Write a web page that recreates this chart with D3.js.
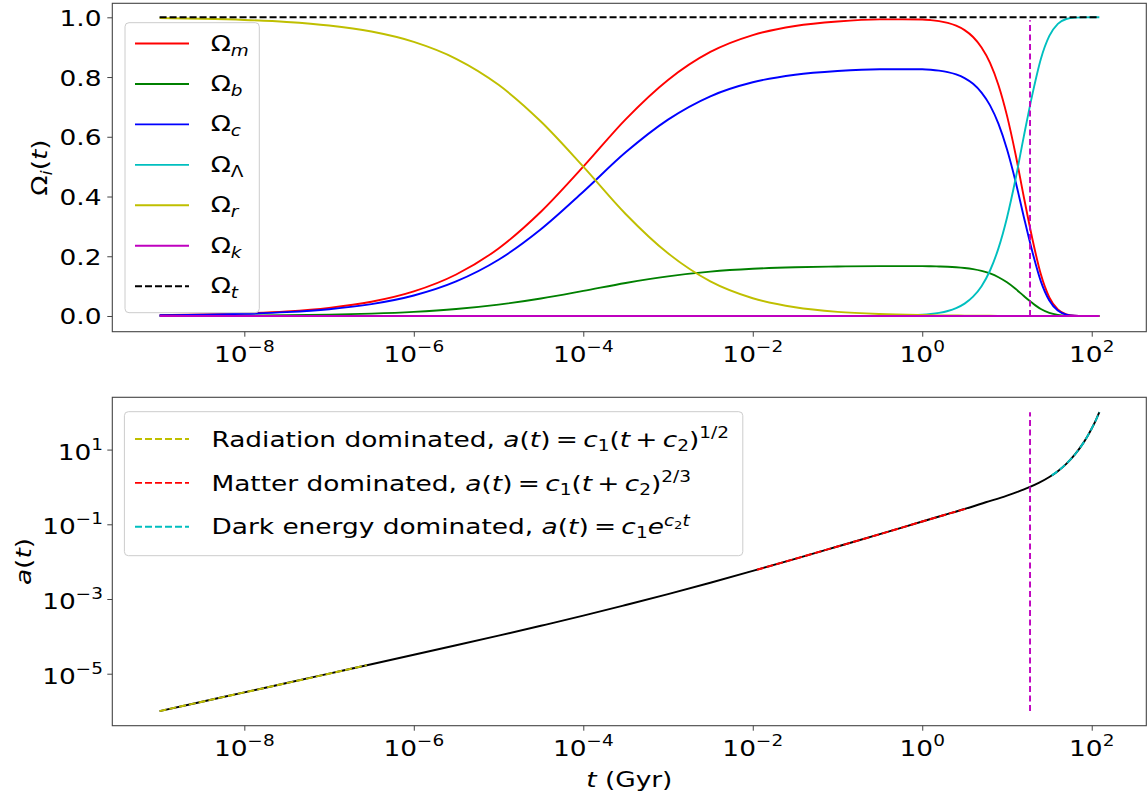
<!DOCTYPE html>
<html>
<head>
<meta charset="utf-8">
<script src="https://cdn.jsdelivr.net/npm/d3@7"></script>
<style>
  body { margin: 0; background: #fff; }
  text { font-family: "DejaVu Sans", sans-serif; fill: #000; white-space: pre; }
</style>
</head>
<body>
<svg id="chart"></svg>
<script>
// ---- top panel: density parameters vs time (Gyr) ----
const omegaTime = [1e-9, 3.16e-9, 1e-8, 3.16e-8, 1e-7, 3.16e-7, 1e-6, 3.16e-6, 1e-5, 3.16e-5,
  1e-4, 3.16e-4, 1e-3, 3.16e-3, 0.01, 0.0316, 0.1, 0.316,
  1, 1.26, 1.58, 2.0, 2.51, 3.16, 3.98, 5.01, 6.31, 7.94, 10, 12.6, 15.8, 20.0, 25.1, 31.6, 39.8, 50.1, 63.1, 79.4, 100, 123];
const omegaM = [0.0028, 0.0050, 0.0088, 0.0155, 0.0273, 0.0477, 0.0823, 0.1389, 0.2261, 0.3489,
  0.5000, 0.6585, 0.7903, 0.8841, 0.9405, 0.9709, 0.9861, 0.9930,
  0.9927, 0.9907, 0.9871, 0.9813, 0.9720, 0.9572, 0.9342, 0.8992, 0.8477, 0.7728, 0.6709, 0.5424, 0.3985, 0.2563, 0.1394, 0.0624, 0.0218, 0.0057, 0.0011, 0.0001, 0, 0];
const omegaB = [0.0005, 0.0008, 0.0015, 0.0026, 0.0046, 0.0080, 0.0138, 0.0233, 0.0380, 0.0586,
  0.0840, 0.1106, 0.1328, 0.1485, 0.1580, 0.1631, 0.1657, 0.1668,
  0.1668, 0.1664, 0.1658, 0.1649, 0.1633, 0.1608, 0.1569, 0.1511, 0.1424, 0.1298, 0.1127, 0.0911, 0.0669, 0.0431, 0.0234, 0.0105, 0.0037, 0.0010, 0.0002, 0, 0, 0];
const omegaC = [0.0023, 0.0042, 0.0073, 0.0129, 0.0227, 0.0397, 0.0685, 0.1156, 0.1881, 0.2903,
  0.4160, 0.5479, 0.6575, 0.7356, 0.7825, 0.8078, 0.8204, 0.8262,
  0.8259, 0.8243, 0.8213, 0.8164, 0.8087, 0.7964, 0.7773, 0.7481, 0.7053, 0.6430, 0.5582, 0.4513, 0.3316, 0.2132, 0.1160, 0.0519, 0.0181, 0.0047, 0.0009, 0.0001, 0, 0];
const omegaL = [0, 0, 0, 0, 0, 0, 0, 0, 0, 0,
  0, 0, 0, 0, 0, 0, 0, 0.0004,
  0.0043, 0.0067, 0.0106, 0.0168, 0.0264, 0.0415, 0.0647, 0.0999, 0.1523, 0.2271, 0.3291, 0.4576, 0.6015, 0.7437, 0.8606, 0.9376, 0.9782, 0.9943, 0.9990, 0.9999, 1.0, 1.0];
const omegaR = [0.9972, 0.9950, 0.9912, 0.9845, 0.9727, 0.9523, 0.9177, 0.8611, 0.7739, 0.6511,
  0.5000, 0.3415, 0.2097, 0.1159, 0.0595, 0.0291, 0.0139, 0.0066,
  0.0031, 0.0026, 0.0022, 0.0019, 0.0016, 0.0013, 0.0011, 0.0009, 0.0007, 0.0005, 0.0003, 0.0002, 0.0001, 0, 0, 0, 0, 0, 0, 0, 0, 0];
// constant curves only need their end points
const flatTime = [1e-9, 123];
const omegaK = [0, 0];
const omegaT = [1, 1];

const omegaLabels = [["Ω", "m"], ["Ω", "b"], ["Ω", "c"], ["Ω", "Λ"], ["Ω", "r"], ["Ω", "k"], ["Ω", "t"]];
const omegaItalicSub = [true, true, true, false, true, true, true];
const omegaColors = ["#ff0000", "#008000", "#0000ff", "#00bfbf", "#bfbf00", "#bf00bf", "#000000"];

// present day marker
const tToday = 18.7;
const todayOmegaRange = [0, 0.99];
const todayARange = [1e-6, 100];

// ---- bottom panel: scale factor ----
const aTime = [1e-9, 3.16e-9, 1e-8, 3.16e-8, 1e-7, 3.16e-7, 1e-6, 3.16e-6, 1e-5, 3.16e-5,
  1e-4, 3.16e-4, 1e-3, 3.16e-3, 0.01, 0.0316, 0.1, 0.316,
  1, 1.78, 3.16, 5.62, 10, 13.3, 17.8, 23.7, 31.6, 39.8, 50.1, 63.1, 79.4, 89.1, 100, 112, 123];
const scaleFactor = [1.00e-6, 1.78e-6, 3.16e-6, 5.64e-6, 1.005e-5, 1.79e-5, 3.21e-5, 5.77e-5, 1.045e-4, 1.92e-4,
  3.58e-4, 6.90e-4, 1.35e-3, 2.73e-3, 5.65e-3, 1.19e-2, 2.54e-2, 5.43e-2,
  0.119, 0.175, 0.257, 0.389, 0.589, 0.739, 0.952, 1.28, 1.84, 2.65, 4.16, 7.33, 14.9, 22.7, 36.6, 61.6, 100];

const radFitTime = [1e-9, 1e-8, 1e-7, 2.78e-7];
const radFitA = [1.0e-6, 3.16e-6, 1.0e-5, 1.70e-5];
const matFitTime = [0.0112, 0.0316, 0.1, 0.316, 1, 1.78, 3.35];
const matFitA = [6.07e-3, 1.19e-2, 2.54e-2, 5.43e-2, 0.119, 0.175, 0.266];
const deFitTime = [33.7, 39.8, 50.1, 63.1, 79.4, 89.1, 100, 112, 123];
const deFitA = [2.04, 2.66, 4.17, 7.33, 14.9, 22.7, 36.6, 61.7, 100];

// math spacing is thinner than a normal space
const fitLabels = [
  [["Radiation dominated, ", ""], ["a", "i"], ["(", ""], ["t", "i"], [")\u2009=\u2009", ""], ["c", "i"], ["1", "sub"], ["(", ""], ["t", "i"], ["\u2009+\u2009", ""], ["c", "i"], ["2", "sub"], [")", ""], ["1/2", "sup"]],
  [["Matter dominated, ", ""], ["a", "i"], ["(", ""], ["t", "i"], [")\u2009=\u2009", ""], ["c", "i"], ["1", "sub"], ["(", ""], ["t", "i"], ["\u2009+\u2009", ""], ["c", "i"], ["2", "sub"], [")", ""], ["2/3", "sup"]],
  [["Dark energy dominated, ", ""], ["a", "i"], ["(", ""], ["t", "i"], [")\u2009=\u2009", ""], ["c", "i"], ["1", "sub"], ["e", "i"], ["c", "supi"], ["2", "supsub"], ["t", "supi"]]
];
const fitColors = ["#bfbf00", "#ff0000", "#00bfbf"];

const xTickValues = [1e-8, 1e-6, 1e-4, 1e-2, 1, 1e2];
const xTickExps = ["−8", "−6", "−4", "−2", "0", "2"];
const omegaTicks = [0, 0.2, 0.4, 0.6, 0.8, 1.0];
const omegaTickLabels = ["0.0", "0.2", "0.4", "0.6", "0.8", "1.0"];
const aTickValues = [1e-5, 1e-3, 1e-1, 10];
const aTickExps = ["−5", "−3", "−1", "1"];

const width = 1147;
const height = 798;
const stretch = 1.2; // the reference text runs a little wide
const left = 112.3, right = 1146.3;
const top1 = 3.3, bottom1 = 331.7;
const top2 = 397.3, bottom2 = 725.7;
const spine = "#444";

const svg = d3.select("#chart").attr("width", width).attr("height", height);

let xScale, yOmega, yA;

const generateScales = () => {
  xScale = d3.scaleLog().domain([Math.pow(10, -9.558), Math.pow(10, 2.644)]).range([left, right]);
  yOmega = d3.scaleLinear().domain([-0.0526, 1.0469]).range([bottom1, top1]);
  yA = d3.scaleLog().domain([Math.pow(10, -6.392), Math.pow(10, 2.4)]).range([bottom2, top2]);
};

// text with simple math: parts are [string, kind]
const drawRich = (g, x, y, parts, opts) => {
  const o = Object.assign({ anchor: "start", size: 22, sub: 5, sup: 10, rotate: false }, opts);
  const t = g.append("text")
    .attr("transform", `translate(${x},${y})` + (o.rotate ? " rotate(-90)" : "") + ` scale(${stretch},1)`)
    .attr("text-anchor", o.anchor)
    .attr("font-size", o.size);
  let shift = 0;
  parts.forEach(([s, kind]) => {
    let target = 0, fs = o.size;
    if (kind.startsWith("sub")) { target = o.sub; fs = o.size * 0.7; }
    if (kind === "sup" || kind === "supi") { target = -o.sup; fs = o.size * 0.7; }
    if (kind === "supsub") { target = -o.sup + 3; fs = o.size * 0.5; }
    const ts = t.append("tspan").text(s).attr("dy", target - shift).attr("font-size", fs);
    if (kind.endsWith("i")) ts.attr("font-style", "italic");
    shift = target;
  });
  return t;
};

const lineOf = (xs, ys, yScale) => d3.line()
  .x((d, i) => xScale(xs[i]))
  .y((d, i) => yScale(ys[i]))
  .curve(d3.curveMonotoneX)(ys);

const drawTop = () => {
  const g = svg.append("g");
  [omegaM, omegaB, omegaC, omegaL, omegaR].forEach((vals, i) => {
    g.append("path").attr("d", lineOf(omegaTime, vals, yOmega))
      .attr("fill", "none").attr("stroke", omegaColors[i]).attr("stroke-width", 1.9);
  });
  g.append("path").attr("d", lineOf(flatTime, omegaK, yOmega))
    .attr("fill", "none").attr("stroke", omegaColors[5]).attr("stroke-width", 1.9);
  g.append("path").attr("d", lineOf(flatTime, omegaT, yOmega))
    .attr("fill", "none").attr("stroke", omegaColors[6]).attr("stroke-width", 1.9)
    .attr("stroke-dasharray", "7,3");
  g.append("line")
    .attr("x1", xScale(tToday)).attr("x2", xScale(tToday))
    .attr("y1", yOmega(todayOmegaRange[0])).attr("y2", yOmega(todayOmegaRange[1]))
    .attr("stroke", "#bf00bf").attr("stroke-width", 1.9).attr("stroke-dasharray", "6,3.5");
};

const drawBottom = () => {
  const g = svg.append("g");
  g.append("path").attr("d", lineOf(aTime, scaleFactor, yA))
    .attr("fill", "none").attr("stroke", "#000").attr("stroke-width", 1.9);
  [[radFitTime, radFitA], [matFitTime, matFitA], [deFitTime, deFitA]].forEach(([ts, as], i) => {
    g.append("path").attr("d", lineOf(ts, as, yA))
      .attr("fill", "none").attr("stroke", fitColors[i]).attr("stroke-width", 1.9)
      .attr("stroke-dasharray", "7,3");
  });
  g.append("line")
    .attr("x1", xScale(tToday)).attr("x2", xScale(tToday))
    .attr("y1", yA(todayARange[0])).attr("y2", yA(todayARange[1]))
    .attr("stroke", "#bf00bf").attr("stroke-width", 1.9).attr("stroke-dasharray", "6,3.5");
};

const generateAxes = () => {
  [[top1, bottom1], [top2, bottom2]].forEach(([yt, yb]) => {
    svg.append("rect").attr("x", left).attr("y", yt)
      .attr("width", right - left).attr("height", yb - yt)
      .attr("fill", "none").attr("stroke", spine).attr("stroke-width", 1.1);

    const xAxis = d3.axisBottom(xScale).tickValues(xTickValues).tickSize(5).tickFormat("");
    svg.append("g").attr("transform", `translate(0,${yb})`).attr("color", spine)
      .call(xAxis).call(a => a.select(".domain").remove());
    xTickValues.forEach((v, i) => {
      drawRich(svg, xScale(v), yb + 30.3, [["10", ""], [xTickExps[i], "sup"]], { anchor: "middle" });
    });
  });

  const yAxisTop = d3.axisLeft(yOmega).tickValues(omegaTicks).tickSize(5).tickFormat("");
  svg.append("g").attr("transform", `translate(${left},0)`).attr("color", spine)
    .call(yAxisTop).call(a => a.select(".domain").remove());
  omegaTicks.forEach((v, i) => {
    drawRich(svg, 101.5, yOmega(v) + 8.5, [[omegaTickLabels[i], ""]], { anchor: "end" });
  });

  const yAxisBottom = d3.axisLeft(yA).tickValues(aTickValues).tickSize(5).tickFormat("");
  svg.append("g").attr("transform", `translate(${left},0)`).attr("color", spine)
    .call(yAxisBottom).call(a => a.select(".domain").remove());
  aTickValues.forEach((v, i) => {
    drawRich(svg, 103, yA(v) + 10, [["10", ""], [aTickExps[i], "sup"]], { anchor: "end" });
  });

  drawRich(svg, 47, (top1 + bottom1) / 2, [["Ω", ""], ["i", "subi"], ["(", ""], ["t", "i"], [")", ""]],
    { anchor: "middle", rotate: true, sub: 5 });
  drawRich(svg, 31, (top2 + bottom2) / 2, [["a", "i"], ["(", ""], ["t", "i"], [")", ""]],
    { anchor: "middle", rotate: true });
  drawRich(svg, (left + right) / 2, 787, [["t", "i"], [" (Gyr)", ""]], { anchor: "middle" });
};

const drawLegends = () => {
  const g1 = svg.append("g");
  g1.append("rect").attr("x", 125).attr("y", 22.7).attr("width", 134.3).attr("height", 290)
    .attr("rx", 4).attr("fill", "#fff").attr("fill-opacity", 0.8)
    .attr("stroke", "#cccccc").attr("stroke-width", 1);
  omegaLabels.forEach(([base, sub], i) => {
    const cy = 43.5 + i * 40.45;
    g1.append("line").attr("x1", 135).attr("x2", 189).attr("y1", cy).attr("y2", cy)
      .attr("stroke", omegaColors[i]).attr("stroke-width", 1.9)
      .attr("stroke-dasharray", i === 6 ? "7,3" : null);
    drawRich(g1, 210.7, cy + 7, [[base, ""], [sub, omegaItalicSub[i] ? "subi" : "sub"]], { sub: 5 });
  });

  const g2 = svg.append("g");
  g2.append("rect").attr("x", 124.4).attr("y", 411.7).attr("width", 618.4).attr("height", 144)
    .attr("rx", 4).attr("fill", "#fff").attr("fill-opacity", 0.8)
    .attr("stroke", "#cccccc").attr("stroke-width", 1);
  fitLabels.forEach((parts, i) => {
    const cy = 439 + i * 43.85;
    g2.append("line").attr("x1", 135).attr("x2", 189).attr("y1", cy).attr("y2", cy)
      .attr("stroke", fitColors[i]).attr("stroke-width", 1.9).attr("stroke-dasharray", "7,3");
    drawRich(g2, 211.4, cy + 7.7, parts, { sub: 4, sup: 8.5 });
  });
};

generateScales();
drawTop();
drawBottom();
generateAxes();
drawLegends();
</script>
</body>
</html>
